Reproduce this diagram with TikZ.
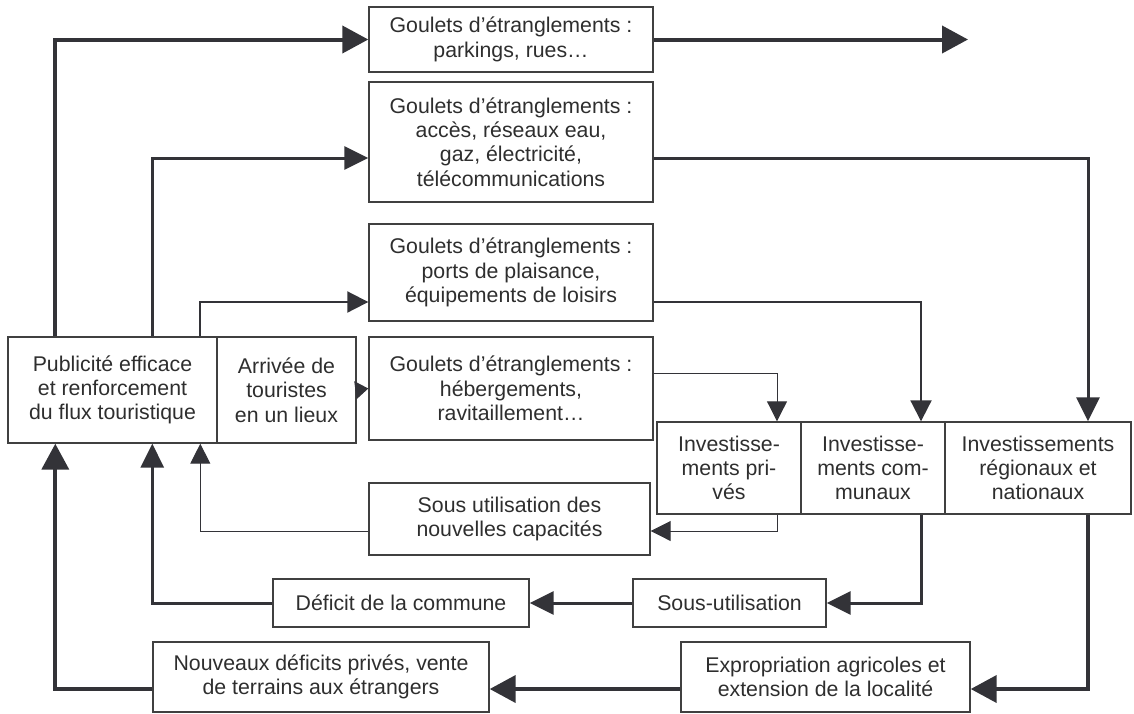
\documentclass[tikz,border=0pt]{standalone}
\usepackage{fontspec}
\setmainfont{Liberation Sans}
\usetikzlibrary{arrows.meta}
\definecolor{linegray}{HTML}{333338}
\definecolor{boxgray}{HTML}{404040}
\definecolor{txtgray}{HTML}{2E2E2E}

\begin{document}
\begin{tikzpicture}[x=1pt, y=-1pt]
\useasboundingbox (0,0) rectangle (1134,713);
% Styles
\tikzstyle{box} = [rectangle, draw=boxgray, line width=1.4pt, align=center, text=txtgray, inner sep=2pt, font=\fontsize{21.3}{24.3}\selectfont]
\tikzstyle{heavy} = [draw=linegray, line width=4pt, -{Triangle[length=26pt, width=27pt]}]
\tikzstyle{medium} = [draw=linegray, line width=3pt, -{Triangle[length=24pt, width=23pt]}]
\tikzstyle{light} = [draw=linegray, line width=2pt, -{Triangle[length=21pt, width=21pt]}]
\tikzstyle{hair} = [draw=linegray, line width=1pt, -{Triangle[length=20pt, width=20pt]}]

% Goulets d'etranglements
\node[box, minimum width=284pt, minimum height=65pt] (parking) at (511,39.5) {
    Goulets d’étranglements :\\
    parkings, rues…
};

\node[box, minimum width=284pt, minimum height=120pt] (acces) at (511,142) {
    Goulets d’étranglements :\\
    accès, réseaux eau,\\
    gaz, électricité,\\
    télécommunications
};

\node[box, minimum width=284pt, minimum height=97pt] (ports) at (511,272.5) {
    Goulets d’étranglements :\\
    ports de plaisance,\\
    équipements de loisirs
};

\node[box, minimum width=284pt, minimum height=103pt] (heberg) at (511,388.5) {
    Goulets d’étranglements :\\
    hébergements,\\
    ravitaillement…
};

% Point de depart
\node[box, minimum width=209pt, minimum height=106pt] (pub) at (112.5,390) {
    Publicité efficace\\
    et renforcement\\
    du flux touristique
};

\node[box, minimum width=139pt, minimum height=106pt] (arrivee) at (286.5,390) {
    Arrivée de\\
    touristes\\
    en un lieux
};

% Investissements
\node[box, minimum width=144pt, minimum height=92pt] (prives) at (729,468) {
    Investisse-\\
    ments pri-\\
    vés
};

\node[box, minimum width=144pt, minimum height=92pt] (communaux) at (873,468) {
    Investisse-\\
    ments com-\\
    munaux
};

\node[box, minimum width=186pt, minimum height=92pt] (regionaux) at (1038,468) {
    Investissements\\
    régionaux et\\
    nationaux
};

% Consequences
\node[box, minimum width=281pt, minimum height=72pt] (sousnouv) at (509.5,519) {
    Sous utilisation des\\
    nouvelles capacités
};

\node[box, minimum width=256pt, minimum height=48pt] (deficit) at (401,603) {Déficit de la commune};

\node[box, minimum width=193pt, minimum height=48pt] (sousutil) at (729.5,603) {Sous-utilisation};

\node[box, minimum width=336pt, minimum height=70pt] (nouveaux) at (321,677) {
    Nouveaux déficits privés, vente\\
    de terrains aux étrangers
};

\node[box, minimum width=289pt, minimum height=70pt] (expro) at (825.5,677) {
    Expropriation agricoles et\\
    extension de la localité
};

\coordinate (out) at (968,39.5);

% Flux vers les goulets
\draw[heavy] ([xshift=48pt]pub.north west) |- (parking.west);
\draw[medium] ([xshift=145pt]pub.north west) |- ([yshift=-16pt]acces.west);
\draw[light] ([xshift=193pt]pub.north west) |- ([yshift=-29.5pt]ports.west);
\draw[draw=linegray, line width=1pt, -{Triangle[length=13pt, width=18pt]}] (arrivee.east) -- (heberg.west);

% Goulets vers les investissements
\draw[heavy] (parking.east) -- (out);
\draw[medium] ([yshift=-16pt]acces.east) -| ([xshift=50pt]regionaux.north);
\draw[light] ([yshift=-29.5pt]ports.east) -| ([xshift=48pt]communaux.north);
\draw[hair] ([yshift=15.5pt]heberg.east) -| ([xshift=48pt]prives.north);

% Retours vers la publicite
\draw[hair] ([xshift=48pt]prives.south) |- ([yshift=-12pt]sousnouv.east);
\draw[hair] ([yshift=-12pt]sousnouv.west) -| ([xshift=193pt]pub.south west);
\draw[medium] ([xshift=48pt]communaux.south) |- (sousutil.east);
\draw[medium] (sousutil.west) -- (deficit.east);
\draw[medium] (deficit.west) -| ([xshift=145pt]pub.south west);
\draw[heavy] ([xshift=50pt]regionaux.south) |- ([yshift=-12pt]expro.east);
\draw[heavy] ([yshift=-12pt]expro.west) -- ([yshift=-12pt]nouveaux.east);
\draw[heavy] ([yshift=-12pt]nouveaux.west) -| ([xshift=48pt]pub.south west);
\end{tikzpicture}
\end{document}
